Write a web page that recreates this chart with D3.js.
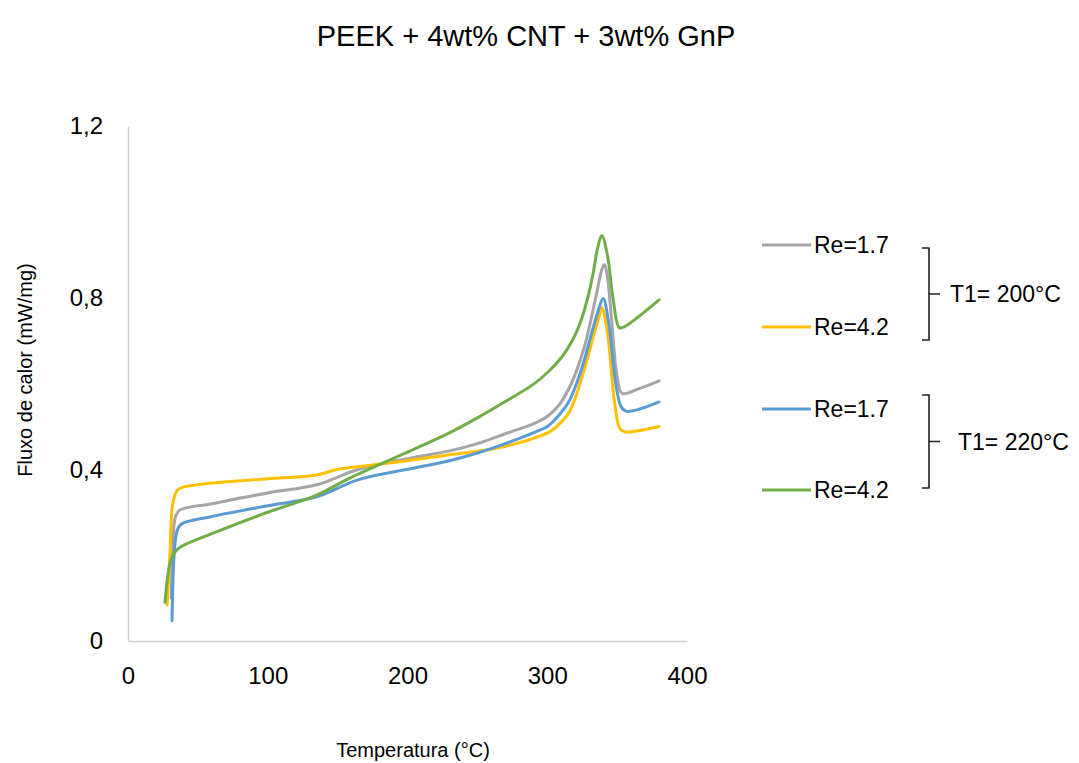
<!DOCTYPE html>
<html>
<head>
<meta charset="utf-8">
<script src="https://cdn.jsdelivr.net/npm/d3@7"></script>
<style>
  body { margin: 0; background: #fff; }
  text { font-family: "Liberation Sans", Arial, sans-serif; fill: #000; }
</style>
</head>
<body>
<div id="chart"></div>
<script>
// temperature (°C) / heat flow (mW/mg)
var gray17 = [[31, 0.10], [32, 0.22], [34, 0.29], [37, 0.305], [60, 0.32], [100, 0.345], [135, 0.364],
  [164, 0.399], [200, 0.425], [230, 0.443], [250, 0.46], [270, 0.483], [290, 0.506], [300, 0.523],
  [308, 0.548], [315, 0.585], [321, 0.63], [327, 0.69], [332, 0.76], [336, 0.82], [339, 0.865], [341, 0.877],
  [343, 0.85], [346, 0.75], [350, 0.616], [353.5, 0.577], [365, 0.587], [380, 0.606]];
var yellow42 = [[28, 0.084], [30, 0.20], [32, 0.32], [35, 0.35], [38, 0.357], [60, 0.368], [100, 0.378],
  [135, 0.387], [150, 0.40], [164, 0.406], [200, 0.42], [230, 0.434], [260, 0.447], [280, 0.462], [295, 0.478],
  [303, 0.49], [310, 0.51], [316, 0.535], [322, 0.585], [328, 0.65], [333, 0.71], [337, 0.755], [339, 0.777],
  [343, 0.72], [348, 0.56], [352, 0.495], [356, 0.487], [365, 0.49], [380, 0.50]];
var blue17 = [[31.5, 0.047], [33, 0.20], [35, 0.255], [38, 0.272], [60, 0.29], [100, 0.315], [135, 0.336],
  [164, 0.375], [200, 0.40], [230, 0.42], [250, 0.438], [270, 0.46], [290, 0.485], [300, 0.5], [308, 0.525],
  [315, 0.555], [321, 0.6], [327, 0.66], [332, 0.72], [336, 0.765], [340, 0.798], [344, 0.74], [349, 0.60],
  [353, 0.545], [357, 0.535], [380, 0.557]];
var green42 = [[26.5, 0.09], [28, 0.14], [30, 0.18], [33, 0.205], [37, 0.218], [60, 0.25], [100, 0.3],
  [135, 0.34], [159, 0.38], [200, 0.44], [230, 0.485], [250, 0.52], [270, 0.558], [290, 0.598], [300, 0.625],
  [310, 0.66], [318, 0.70], [324, 0.745], [329, 0.80], [333, 0.86], [336, 0.915], [339, 0.945], [343, 0.90],
  [347, 0.80], [351.5, 0.73], [355, 0.732], [365, 0.755], [380, 0.795]];

var seriesNames = ["Re=1.7", "Re=4.2", "Re=1.7", "Re=4.2"];
var seriesColors = ["#a5a5a5", "#ffc000", "#5b9bd5", "#70ad47"];
var groupLabels = ["T1= 200°C", "T1= 220°C"];
var xTicks = [0, 100, 200, 300, 400];
var yTicks = [0, 0.4, 0.8, 1.2];

var width = 1079, height = 763;
var series = [gray17, yellow42, blue17, green42];

var svg = d3.select("#chart").append("svg")
  .attr("width", width)
  .attr("height", height);

var x = d3.scaleLinear().domain([0, 400]).range([128, 687]);
var y = d3.scaleLinear().domain([0, 1.2]).range([641, 126]);
var fmt = function(d) { return d3.format(".1~f")(d).replace(".", ","); };

// title
svg.append("text")
  .attr("x", 526).attr("y", 46)
  .attr("text-anchor", "middle")
  .style("font-size", "29px")
  .text("PEEK + 4wt% CNT + 3wt% GnP");

// axes
var gx = svg.append("g").attr("transform", "translate(0," + y(0) + ")")
  .call(d3.axisBottom(x).tickValues(xTicks).tickSize(0).tickSizeOuter(0).tickPadding(26).tickFormat(d3.format("d")));
var gy = svg.append("g").attr("transform", "translate(" + x(0) + ",0)")
  .call(d3.axisLeft(y).tickValues(yTicks).tickSize(0).tickSizeOuter(0).tickPadding(25).tickFormat(fmt));
[gx, gy].forEach(function(g) {
  g.select(".domain").attr("stroke", "#cfcfcf").attr("stroke-width", 1.5);
  g.selectAll("text").style("font-size", "24px").style("font-family", "'Liberation Sans', Arial, sans-serif").attr("fill", "#222");
});

svg.append("text")
  .attr("x", 413).attr("y", 757)
  .attr("text-anchor", "middle")
  .style("font-size", "20px")
  .text("Temperatura (°C)");
svg.append("text")
  .attr("transform", "translate(32,370) rotate(-90)")
  .attr("text-anchor", "middle")
  .style("font-size", "20px")
  .text("Fluxo de calor (mW/mg)");

// curves
var line = d3.line()
  .x(function(d) { return x(d[0]); })
  .y(function(d) { return y(d[1]); })
  .curve(d3.curveCatmullRom.alpha(0.5));

svg.append("g").selectAll("path")
  .data(series).enter()
  .append("path")
  .attr("d", line)
  .attr("fill", "none")
  .attr("stroke", function(d, i) { return seriesColors[i]; })
  .attr("stroke-width", 3)
  .attr("stroke-linejoin", "round")
  .attr("stroke-linecap", "round");

// legend
var legY = [245, 327, 409, 490];
var leg = svg.append("g").selectAll("g")
  .data(seriesNames).enter()
  .append("g")
  .attr("transform", function(d, i) { return "translate(762," + legY[i] + ")"; });
leg.append("line")
  .attr("x1", 0).attr("x2", 49)
  .attr("stroke", function(d, i) { return seriesColors[i]; })
  .attr("stroke-width", 3);
leg.append("text")
  .attr("x", 52).attr("dy", "0.35em")
  .style("font-size", "23px")
  .text(function(d) { return d; });

// brackets grouping the legend entries
var brackets = [{top: 248, bottom: 340, tx: 950}, {top: 395, bottom: 488, tx: 958}];
var br = svg.append("g").selectAll("g")
  .data(brackets).enter()
  .append("g");
br.append("path")
  .attr("d", function(d) { return "M922," + d.top + "H929V" + d.bottom + "H922M929," + (d.top + d.bottom) / 2 + "H940"; })
  .attr("fill", "none")
  .attr("stroke", "#222")
  .attr("stroke-width", 1.6);
br.append("text")
  .attr("x", function(d) { return d.tx; })
  .attr("y", function(d) { return (d.top + d.bottom) / 2; })
  .attr("dy", "0.35em")
  .style("font-size", "23px")
  .text(function(d, i) { return groupLabels[i]; });
</script>
</body>
</html>
